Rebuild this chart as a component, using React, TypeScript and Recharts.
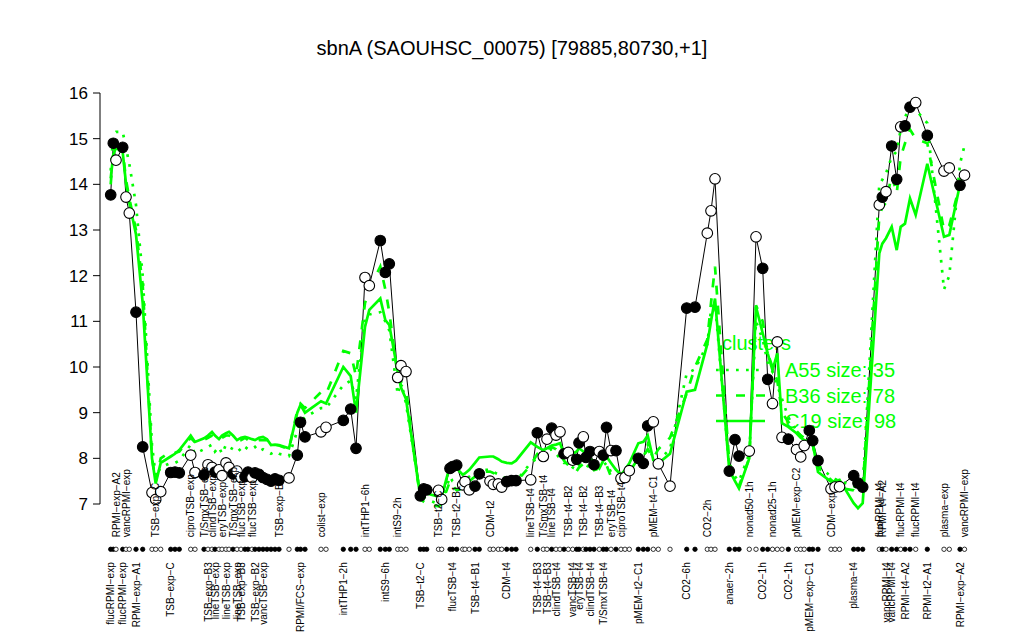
import React from 'react';
import { ComposedChart, Line, XAxis, YAxis, ReferenceLine, Customized } from 'recharts';

// sample positions along the x axis (slot units)
const samplePos = [
  2.14, 2.66, 3.2, 4.54, 5.2, 5.86, 7.2, 8.54, 10.4, 11.14, 12.14, 14.14, 15.0, 15.86, 18.14, 19.0,
  20.8, 21.6, 22.4, 23.0, 23.8, 24.4, 25.2, 25.8, 26.6, 27.4, 28.2, 29.0, 29.6, 30.4, 31.0, 31.8, 32.6, 33.4, 34.2, 35.0, 35.8, 37.8,
  39.46, 40.1, 41.0, 44.2, 45.2, 48.66, 50.14, 51.2, 53.0, 53.86, 56.06, 57.06, 57.86, 59.54, 60.2, 61.2,
  64.06, 64.74, 65.34, 67.7, 68.34, 70.0, 70.5, 71.34, 72.54, 73.0, 73.86, 75.0, 75.86,
  78.0, 78.66, 79.66, 80.34, 81.34, 82.34, 83.2, 86.14,
  87.46, 88.66, 89.4, 90.34, 91.2, 92.0, 92.8, 93.66, 94.54, 95.34, 95.8, 96.66, 97.2, 98.0, 98.8, 99.86, 100.66, 101.3, 102.2, 103.2, 104.2, 105.0, 105.86,
  107.66, 108.66, 109.54, 110.66, 111.66, 114.0,
  117.34, 119.0, 121.46, 122.2, 123.0,
  125.86, 127.0, 127.8, 129.86, 131.2, 132.54, 133.54, 134.5, 135.46, 136.4, 137.66, 139.3, 140.14, 140.84, 141.86, 142.54, 143.6,
  146.2, 147.0, 147.9, 150.74, 151.6, 152.54,
  155.86, 156.46, 157.2, 158.34, 159.34, 160.14, 161.0, 162.0, 163.14, 165.46, 168.8, 169.86, 172.0, 172.9,
];

// expression of sbnA per sample
const expression = [
  13.77, 14.9, 14.53, 14.81, 13.72, 13.37, 11.2, 8.25, 7.25, 7.1, 7.27, 7.69, 7.7, 7.68, 8.07, 7.69,
  7.64, 7.86, 7.8, 7.7, 7.75, 7.62, 7.9, 7.8, 7.66, 7.72, 7.58, 7.6, 7.7, 7.58, 7.68, 7.65, 7.58, 7.54, 7.5, 7.55, 7.52, 7.57,
  8.07, 8.79, 8.47, 8.58, 8.68, 8.83, 9.08, 8.22, 11.96, 11.78, 12.77, 12.07, 12.26, 9.77, 10.03, 9.9,
  7.18, 7.33, 7.31, 7.3, 7.1, 7.78, 7.82, 7.85, 7.42, 7.49, 7.31, 7.39, 7.66,
  7.5, 7.43, 7.44, 7.37, 7.49, 7.51, 7.51, 7.53,
  8.56, 8.04, 8.42, 8.66, 8.51, 8.58, 8.1, 8.13, 7.96, 7.98, 8.34, 8.47, 8.02, 8.15, 7.86, 8.15, 8.07, 8.68, 8.17, 8.17, 7.56, 7.58, 7.73,
  8.0, 7.89, 8.71, 8.8, 7.88, 7.39,
  11.29, 11.31, 12.93, 13.42, 14.12,
  7.72, 8.41, 8.05, 8.16, 12.85, 12.16, 9.73, 9.2, 10.55, 8.46, 8.42, 8.19, 8.03, 8.28, 8.61, 8.39, 7.95,
  7.33, 7.37, 7.38, 7.62, 7.46, 7.37,
  13.55, 13.72, 13.84, 14.84, 14.11, 15.26, 15.28, 15.69, 15.79, 15.07, 14.29, 14.36, 13.98, 14.2,
];

// 1 = filled marker, 0 = open marker
const filledFlag = [
  1, 1, 0, 1, 0, 0, 1, 1, 0, 0, 0, 1, 1, 1, 0, 0,
  1, 0, 0, 1, 0, 0, 0, 0, 1, 0, 0, 1, 1, 0, 1, 1, 1, 1, 1, 1, 1, 0,
  1, 1, 1, 0, 0, 1, 1, 1, 0, 0, 1, 1, 1, 0, 0, 0,
  1, 1, 1, 0, 0, 1, 1, 1, 0, 0, 0, 1, 1,
  0, 0, 0, 0, 1, 1, 1, 0,
  1, 0, 0, 1, 0, 0, 1, 0, 0, 1, 1, 0, 1, 1, 1, 0, 1, 1, 0, 1, 0, 0, 0,
  1, 1, 1, 0, 0, 0,
  1, 1, 0, 0, 0,
  1, 1, 1, 0, 0, 1, 1, 0, 0, 0, 1, 0, 0, 0, 1, 1, 1,
  0, 0, 0, 1, 1, 1,
  0, 1, 0, 1, 1, 0, 1, 1, 0, 1, 0, 0, 1, 0,
];

// cluster profiles
const clusterC19 = [
  14.13, 14.65, 14.8, 14.7, 14.02, 13.6, 12.9, 11.4, 8.0, 7.45, 7.9, 8.04, 8.1, 8.18, 8.5, 8.36,
  8.44, 8.5, 8.58, 8.5, 8.42, 8.5, 8.55, 8.58, 8.5, 8.4, 8.45, 8.47, 8.45, 8.42, 8.4, 8.45, 8.47, 8.42, 8.29, 8.3, 8.29, 8.22,
  9.0, 9.17, 9.0, 9.25, 9.2, 10.0, 9.8, 9.0, 10.88, 11.25, 11.5, 11.03, 10.92, 9.9, 9.55, 9.3,
  7.16, 7.2, 7.23, 7.16, 7.16, 7.85, 7.89, 7.78, 7.64, 7.67, 7.75, 7.9, 8.02,
  8.04, 8.04, 7.98, 7.93, 7.9, 7.89, 7.95, 8.35,
  8.25, 8.18, 8.22, 8.28, 8.3, 8.33, 8.1, 8.04, 8.1, 8.15, 8.22, 8.15, 8.1, 8.0, 7.9, 7.78, 7.95, 8.04, 7.9, 7.75, 7.64, 7.75, 7.89,
  8.33, 8.36, 8.5, 7.96, 7.89, 8.1,
  9.46, 9.5, 10.5, 11.0, 11.5,
  7.74, 7.5, 7.34, 8.0, 11.32, 10.74, 10.3, 9.93, 10.3, 8.77, 8.69, 8.55, 8.45, 8.4, 8.35, 8.33, 7.7,
  7.49, 7.5, 7.53, 7.02, 6.91, 7.02,
  12.49, 12.7, 12.82, 13.07, 12.56, 13.07, 13.14, 13.69, 13.33, 14.45, 12.85, 12.89, 14.0, 14.2,
];

const clusterB36 = [
  14.0, 14.7, 14.85, 14.75, 14.1, 13.7, 13.0, 11.8, 8.0, 7.5, 8.0, 8.15, 8.12, 8.15, 8.45, 8.35,
  8.4, 8.45, 8.5, 8.45, 8.4, 8.45, 8.5, 8.5, 8.45, 8.4, 8.4, 8.45, 8.4, 8.4, 8.38, 8.4, 8.4, 8.4, 8.3, 8.3, 8.28, 8.2,
  9.05, 9.2, 9.1, 9.45, 9.4, 10.35, 10.3, 9.8, 11.4, 11.7, 12.2, 11.7, 11.2, 9.8, 9.6, 9.5,
  7.1, 7.05, 7.0, 6.95, 7.0, 7.5, 7.4, 7.3, 7.34, 7.4, 7.5, 7.6, 7.7,
  7.71, 7.68, 7.64, 7.6, 7.55, 7.53, 7.48, 7.85,
  8.1, 8.15, 8.2, 8.25, 8.2, 8.1, 7.95, 7.85, 7.74, 7.72, 7.8, 7.88, 7.93, 7.85, 7.74, 7.78, 7.82, 7.85, 7.6, 7.5, 7.52, 7.6, 7.7,
  8.0, 8.04, 8.2, 8.0, 8.2, 8.45,
  9.42, 10.0, 10.6, 11.4, 12.2,
  7.9, 7.6, 7.4, 8.0, 11.35, 11.0, 10.3, 10.0, 9.7, 9.0, 8.8, 8.6, 8.5, 8.45, 8.4, 8.3, 7.8,
  7.53, 7.45, 7.35, 7.3, 7.23, 7.3,
  13.3, 13.5, 13.6, 14.2, 13.8, 14.6, 14.9, 15.2, 15.0, 14.9, 13.0, 13.1, 14.0, 14.3,
];

const clusterA55 = [
  14.3, 15.11, 15.15, 15.15, 14.8, 14.45, 13.55, 12.0, 8.3, 7.6, 7.8, 7.9, 7.9, 7.95, 8.3, 8.1,
  8.2, 8.25, 8.3, 8.15, 8.25, 8.1, 8.3, 8.25, 8.2, 8.25, 8.15, 8.25, 8.2, 8.2, 8.25, 8.15, 8.2, 8.15, 8.1, 8.15, 8.1, 8.05,
  8.6, 8.8, 8.9, 9.1, 9.1, 9.6, 9.7, 9.3, 11.1, 11.15, 11.2, 11.0, 10.8, 9.4, 9.7, 9.2,
  7.2, 7.15, 7.1, 7.0, 7.05, 7.6, 7.5, 7.45, 7.5, 7.55, 7.6, 7.7, 7.75,
  7.75, 7.7, 7.65, 7.6, 7.55, 7.5, 7.5, 7.9,
  8.0, 8.1, 8.15, 8.2, 8.1, 8.0, 7.9, 7.9, 7.8, 7.75, 7.85, 7.9, 7.85, 7.8, 7.75, 7.8, 7.85, 7.9, 7.7, 7.6, 7.55, 7.6, 7.7,
  7.95, 8.0, 8.3, 8.0, 7.95, 8.2,
  9.86, 9.95, 10.5, 11.25, 11.4,
  7.8, 7.6, 7.5, 8.1, 11.0, 10.6, 10.1, 9.9, 9.6, 9.3, 8.9, 8.6, 8.5, 8.4, 8.35, 8.3, 7.85,
  7.6, 7.55, 7.5, 7.4, 7.3, 7.35,
  14.0, 14.1, 14.24, 14.6, 14.72, 15.2, 15.48, 15.66, 15.63, 15.34, 11.7, 12.0, 14.45, 14.85,
];

// sample labels (sample number, 1-based)
const topLabels: [number, string][] = [
  [3, 'RPMI−exp−A2'], [5, 'vancRPMI−exp'], [10, 'TSB−exp−C'], [15, 'ciproTSB−exp'], [17, 'T/SmxTSB−exp'],
  [19, 'clindTSB−exp'], [22, 'eryTSB−exp'], [25, 'T/SmxTSB−exp'], [27, 'flucTSB−exp'], [30, 'flucTSB−exp'],
  [37, 'TSB−exp−B1'], [42, 'colist−exp'], [47, 'intTHP1−6h'], [52, 'intS9−2h'], [58, 'TSB−t2−C'],
  [62, 'TSB−t2−B1'], [68, 'CDM−t2'], [75, 'lineTSB−t4'], [77, 'T/SmxTSB−t4'], [79, 'lineTSB−t4'],
  [83, 'TSB−t4−B2'], [87, 'TSB−t4−B2'], [91, 'TSB−t4−B3'], [94, 'eryTSB−t4'], [96, 'ciproTSB−t4'],
  [102, 'pMEM−t4−C1'], [107, 'CO2−2h'], [113, 'nonad50−1h'], [117, 'nonad25−1h'], [121, 'pMEM−exp−C2'],
  [127, 'CDM−exp'], [133, 'flucRPMI−t4'], [134, 'RPMI−t4−A2'], [138, 'flucRPMI−t4'], [141, 'flucRPMI−t4'],
  [143, 'plasma−exp'], [146, 'vancRPMI−exp'],
];
const bottomLabels: [number, string][] = [
  [1, 'flucRPMI−exp'], [4, 'flucRPMI−exp'], [7, 'RPMI−exp−A1'], [12, 'TSB−exp−C'], [18, 'TSB−exp−B3'],
  [20, 'lineTSB−exp'], [23, 'lineTSB−exp'], [26, 'lineTSB−exp'], [27, 'TSB−exp−B3'], [31, 'TSB−exp−B2'],
  [33, 'vancTSB−exp'], [40, 'RPMI/FCS−exp'], [44, 'intTHP1−2h'], [50, 'intS9−6h'], [55, 'TSB−t2−C'],
  [61, 'flucTSB−t4'], [66, 'TSB−t4−B1'], [72, 'CDM−t4'], [76, 'TSB−t4−B3'], [78, 'TSB−t4−B3'],
  [80, 'clindTSB−t4'], [84, 'vancTSB−t4'], [86, 'eryTSB−t4'], [89, 'clindTSB−t4'], [92, 'T/SmxTSB−t4'],
  [99, 'pMEM−t2−C1'], [105, 'CO2−6h'], [110, 'anaer−2h'], [115, 'CO2−1h'], [120, 'CO2−1h'],
  [124, 'pMEM−exp−C1'], [130, 'plasma−t4'], [135, 'vancRPMI−t4'], [136, 'vancRPMI−t4'], [139, 'RPMI−t4−A2'],
  [142, 'RPMI−t2−A1'], [145, 'RPMI−exp−A2'],
];

const yTicks = [7, 8, 9, 10, 11, 12, 13, 14, 15, 16];
const clusterNames = ['A55', 'B36', 'C19'];
const clusterSizes = [35, 78, 98];
const chartTitle = 'sbnA (SAOUHSC_00075) [79885,80730,+1]';

const GREEN = '#00ff00';
const FONT = '"Liberation Sans", Arial, Helvetica, sans-serif';
const clusterStyles = [
  { dash: '2.7 7.3', width: 2.7 },
  { dash: '9 11', width: 2.7 },
  { dash: undefined as string | undefined, width: 2.7 },
];

const topMap = new Map(topLabels.map(([i, t]) => [i - 1, t]));
const bottomMap = new Map(bottomLabels.map(([i, t]) => [i - 1, t]));

function SampleTick(props: any) {
  const { x, y, payload } = props;
  let i = typeof props.index === 'number' ? props.index : -1;
  if (i < 0 || samplePos[i] !== payload.value) i = samplePos.indexOf(payload.value);
  const top = topMap.get(i);
  const bottom = bottomMap.get(i);
  return (
    <g>
      {top && (
        <text transform={`translate(${x + 3.6},${y + 15}) rotate(-90)`} textAnchor="start" fontSize={10} fill="#000">
          {top}
        </text>
      )}
      <circle cx={x} cy={y + 27} r={2.2} fill={filledFlag[i] ? '#000' : '#fff'} stroke="#000" strokeWidth={0.8} />
      {bottom && (
        <text transform={`translate(${x + 3.6},${y + 40}) rotate(-90)`} textAnchor="end" fontSize={10} fill="#000">
          {bottom}
        </text>
      )}
    </g>
  );
}

function PointDot(props: any) {
  const { cx, cy, payload, index } = props;
  if (cx == null || cy == null) return null;
  return (
    <circle key={`pt-${index}`} cx={cx} cy={cy} r={5.3} fill={payload.filled ? '#000' : '#fff'} stroke="#000" strokeWidth={1.1} />
  );
}

function TitleLayer() {
  return (
    <text x={512} y={55} textAnchor="middle" fontSize={20} fill="#000" fontFamily={FONT}>
      {chartTitle}
    </text>
  );
}

function LegendLayer() {
  const rowY = [370, 395.5, 421];
  return (
    <g fontFamily={FONT}>
      <text x={722} y={350} fontSize={20} fill={GREEN}>clusters</text>
      {clusterNames.map((n, k) => (
        <g key={n}>
          <line x1={716} x2={765} y1={rowY[k]} y2={rowY[k]} stroke={GREEN} strokeWidth={clusterStyles[k].width} strokeDasharray={clusterStyles[k].dash} />
          <text x={785} y={rowY[k] + 7} fontSize={20} fill={GREEN}>{`${n} size: ${clusterSizes[k]}`}</text>
        </g>
      ))}
    </g>
  );
}

export default function App() {
  const data = samplePos.map((p, i) => ({
    pos: p,
    expr: expression[i],
    filled: filledFlag[i],
    a55: clusterA55[i],
    b36: clusterB36[i],
    c19: clusterC19[i],
  }));
  return (
    <div style={{ position: 'absolute', left: 0, top: 0, width: 1024, height: 640, background: '#fff', fontFamily: FONT }}>
      <ComposedChart width={1024} height={640} data={data} margin={{ top: 83.87, right: 49, bottom: 17.73, left: 40 }}>
        <XAxis
          dataKey="pos"
          type="number"
          domain={[0, 175]}
          ticks={samplePos}
          interval={0}
          tick={<SampleTick />}
          tickLine={false}
          axisLine={false}
          tickSize={0}
          tickMargin={0}
          height={100}
          zIndex={100}
        />
        <YAxis
          type="number"
          domain={[6.6, 16.2]}
          ticks={yTicks}
          interval={0}
          axisLine={false}
          tickLine={{ stroke: '#000' }}
          tickSize={7}
          tickMargin={5}
          width={60}
          tick={{ fontSize: 17, fill: '#000' }}
        />
        <ReferenceLine segment={[{ x: 0, y: 7 }, { x: 0, y: 16 }]} stroke="#000" strokeWidth={1} ifOverflow="visible" />
        <Customized component={<TitleLayer />} />
        <Customized component={<LegendLayer />} />
        <Line dataKey="expr" stroke="#000" strokeWidth={1} dot={<PointDot />} activeDot={false} isAnimationActive={false} legendType="none" />
        <Line dataKey="a55" stroke={GREEN} strokeWidth={clusterStyles[0].width} strokeDasharray={clusterStyles[0].dash} dot={false} activeDot={false} isAnimationActive={false} />
        <Line dataKey="b36" stroke={GREEN} strokeWidth={clusterStyles[1].width} strokeDasharray={clusterStyles[1].dash} dot={false} activeDot={false} isAnimationActive={false} />
        <Line dataKey="c19" stroke={GREEN} strokeWidth={clusterStyles[2].width} dot={false} activeDot={false} isAnimationActive={false} />
      </ComposedChart>
    </div>
  );
}
